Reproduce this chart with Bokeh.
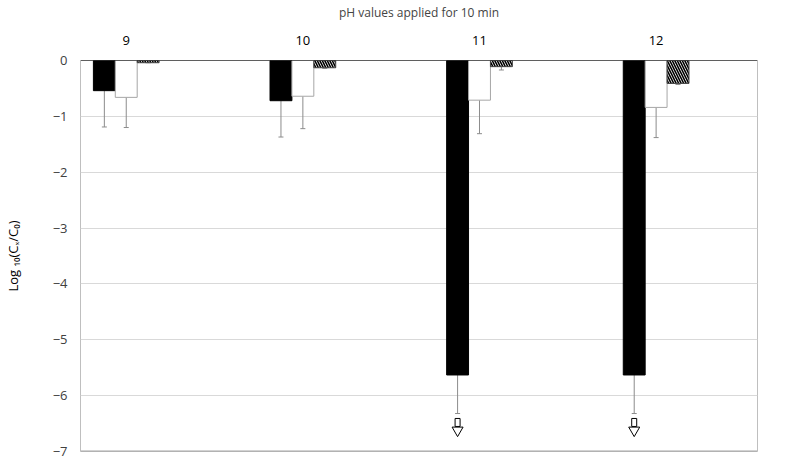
from bokeh.plotting import figure
from bokeh.models import (ColumnDataSource, LinearAxis, FixedTicker, Whisker, TeeHead,
                          Span, Range1d)
from bokeh.embed import file_html
from bokeh.resources import INLINE
from bokeh.core.properties import value

# ---- data ----
ph_labels = ["9", "10", "11", "12"]
group_pos = [1, 2, 3, 4]
black_vals = [-0.54, -0.72, -5.63, -5.63]
black_err = [0.65, 0.65, 0.69, 0.69]
white_vals = [-0.66, -0.64, -0.71, -0.84]
white_err = [0.54, 0.58, 0.60, 0.54]
hatch_vals = [-0.04, -0.13, -0.11, -0.41]
hatch_err = [0.0, 0.01, 0.06, 0.02]
below_limit = [False, False, True, True]
y_ticks = [0, -1, -2, -3, -4, -5, -6, -7]

BAR_W = 0.124
FONT = "Open Sans"

p = figure(width=774, height=460, output_backend="svg", toolbar_location=None,
           x_range=Range1d(0.741, 4.574), y_range=Range1d(-7, 0),
           x_axis_location=None, min_border_left=76, min_border_right=17,
           min_border_top=60, min_border_bottom=9)

p.outline_line_color = "#bfbfbf"
p.xgrid.grid_line_color = None
p.ygrid.grid_line_color = "#d9d9d9"
p.ygrid.ticker = FixedTicker(ticks=y_ticks)

ya = p.yaxis[0]
ya.ticker = FixedTicker(ticks=y_ticks)
ya.axis_line_color = None
ya.major_tick_line_color = None
ya.minor_tick_line_color = None
ya.major_tick_out = 0
ya.major_tick_in = 0
ya.major_label_text_font = FONT
ya.major_label_text_font_size = "13px"
ya.major_label_text_color = "#404040"
ya.major_label_standoff = 13
ya.axis_label = "Log \u2081\u2080(C\u2093/C\u2080)"
ya.axis_label_text_font = FONT
ya.axis_label_text_font_size = "13px"
ya.axis_label_text_font_style = "normal"
ya.axis_label_text_color = "#000000"
ya.axis_label_standoff = 28

top_axis = LinearAxis(ticker=FixedTicker(ticks=group_pos),
                      major_label_overrides={g: l for g, l in zip(group_pos, ph_labels)},
                      axis_line_color=None, major_tick_line_color=None,
                      minor_tick_line_color=None, major_tick_out=0, major_tick_in=0,
                      major_label_text_font=FONT, major_label_text_font_size="13px",
                      major_label_text_color="#000000", major_label_standoff=16,
                      axis_label="pH values applied for 10 min",
                      axis_label_text_font=FONT, axis_label_text_font_size="12px",
                      axis_label_text_font_style="normal", axis_label_standoff=12)
p.add_layout(top_axis, "above")

def series(vals, errs, offset):
    xs = [g + offset for g in group_pos]
    lows = [v - e for v, e in zip(vals, errs)]
    return ColumnDataSource(dict(x=xs, top=[0] * len(vals), bottom=vals, low=lows))

src_b = series(black_vals, black_err, -BAR_W)
src_w = series(white_vals, white_err, 0.0)
src_h = series(hatch_vals, hatch_err, BAR_W)

p.vbar(x="x", top="top", bottom="bottom", width=BAR_W, source=src_b,
       fill_color="black", line_color="black")
p.vbar(x="x", top="top", bottom="bottom", width=BAR_W, source=src_w,
       fill_color="white", line_color="#a6a6a6")
p.vbar(x="x", top="top", bottom="bottom", width=BAR_W, source=src_h,
       fill_color="white", line_color="#404040", hatch_pattern="\\",
       hatch_color="black", hatch_scale=5, hatch_weight=1.6)

for src in (src_b, src_w, src_h):
    w = Whisker(base="x", upper="bottom", lower="low", source=src,
                line_color="#8c8c8c", line_width=1, upper_head=None,
                lower_head=TeeHead(size=5, line_color="#8c8c8c", line_width=1))
    p.add_layout(w)

# hollow down-arrows for values below the detection limit
ax = [x for x, f in zip(src_b.data["x"], below_limit) if f]
alow = [l for l, f in zip(src_b.data["low"], below_limit) if f]
p.scatter(x=ax, y=[l - 0.30 for l in alow], marker="inverted_triangle", size=11,
          fill_color="white", line_color="black", line_width=1)
p.rect(x=ax, y=[l - 0.16 for l in alow], width=5, height=8,
       width_units="screen", height_units="screen",
       fill_color="white", line_color="black", line_width=1)

p.add_layout(Span(location=0, dimension="width", line_color="#000000", line_width=1.2))
p.add_layout(Span(location=-7, dimension="width", line_color="#a6a6a6", line_width=2))

open("out.html", "w").write(file_html(p, INLINE))
